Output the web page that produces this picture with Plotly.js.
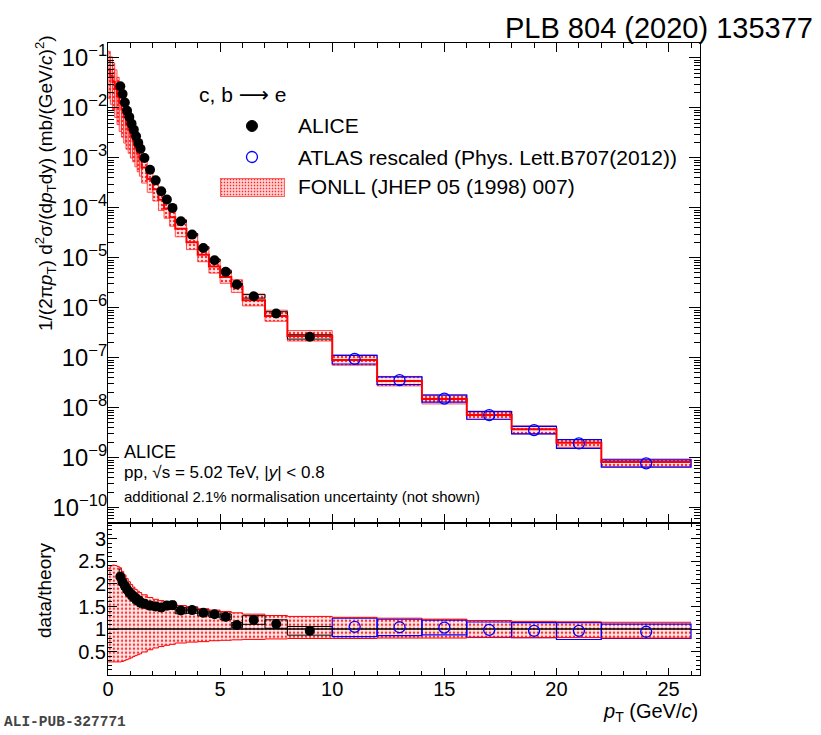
<!DOCTYPE html>
<html>
<head>
<meta charset="utf-8">
<script src="https://cdn.plot.ly/plotly-3.0.1.min.js"></script>
<style>html,body{margin:0;padding:0;background:#fff;}#chart{width:821px;height:735px;}</style>
</head>
<body>
<div id="chart"></div>
<script>
// ---------------- data ----------------
// ALICE heavy-flavour electrons, pp 5.02 TeV
const aliceX = [0.55,0.65,0.75,0.85,0.95,1.05,1.15,1.25,1.35,1.45,1.625,1.875,2.125,2.375,2.625,2.875,3.25,3.75,4.25,4.75,5.25,5.75,6.5,7.5,9];
const aliceW = [0.1,0.1,0.1,0.1,0.1,0.1,0.1,0.1,0.1,0.1,0.25,0.25,0.25,0.25,0.25,0.25,0.5,0.5,0.5,0.5,0.5,0.5,1,1,2];
const aliceY = [2.71e-2,1.9e-2,1.29e-2,8.8e-3,6.6e-3,4.85e-3,3.68e-3,2.7e-3,2.0e-3,1.53e-3,1.0e-3,5.8e-4,3.56e-4,2.15e-4,1.47e-4,1.0e-4,5.4e-5,2.92e-5,1.58e-5,8.95e-6,5.25e-6,2.92e-6,1.7e-6,7.7e-7,2.63e-7];
const aliceRatio = [2.16,2.04,1.96,1.88,1.81,1.76,1.71,1.67,1.63,1.60,1.56,1.52,1.50,1.48,1.52,1.53,1.41,1.42,1.36,1.33,1.27,1.09,1.20,1.11,0.96];
const aliceSys = [0.08,0.08,0.08,0.08,0.08,0.08,0.08,0.08,0.08,0.08,0.06,0.06,0.06,0.06,0.06,0.06,0.05,0.05,0.05,0.05,0.05,0.05,0.08,0.085,0.10];
const aliceStat = [0.01,0.01,0.01,0.01,0.01,0.01,0.01,0.01,0.01,0.01,0.01,0.01,0.01,0.01,0.01,0.01,0.01,0.01,0.01,0.01,0.01,0.01,0.04,0.05,0.07];

// ATLAS rescaled
const atlasX = [11,13,15,17,19,21,24];
const atlasW = [2,2,2,2,2,2,4];
const atlasY = [9.5e-8,3.56e-8,1.53e-8,7.1e-9,3.56e-9,1.93e-9,7.7e-10];
const atlasRatio = [1.05,1.04,1.03,0.98,0.96,0.96,0.94];
const atlasSysUp = [0.18,0.17,0.165,0.18,0.19,0.19,0.18];
const atlasSysDn = [0.21,0.18,0.155,0.17,0.16,0.20,0.16];

// FONLL
const fonllX = [0.05,0.15,0.25,0.35,0.45,0.55,0.65,0.75,0.85,0.95,1.05,1.15,1.25,1.35,1.45,
  1.625,1.875,2.125,2.375,2.625,2.875,3.25,3.75,4.25,4.75,5.25,5.75,6.5,7.5,9,11,13,15,17,19,21,24];
const fonllW = [0.1,0.1,0.1,0.1,0.1,0.1,0.1,0.1,0.1,0.1,0.1,0.1,0.1,0.1,0.1,
  0.25,0.25,0.25,0.25,0.25,0.25,0.5,0.5,0.5,0.5,0.5,0.5,1,1,2,2,2,2,2,2,2,4];
const fonllY = [5.8e-2,4.4e-2,3.3e-2,2.4e-2,1.72e-2,1.255e-2,9.3e-3,6.6e-3,4.68e-3,3.65e-3,2.76e-3,2.15e-3,1.62e-3,1.23e-3,9.6e-4,
  6.4e-4,3.8e-4,2.37e-4,1.45e-4,9.7e-5,6.5e-5,3.83e-5,2.06e-5,1.16e-5,6.7e-6,4.13e-6,2.68e-6,1.42e-6,6.9e-7,2.74e-7,
  9.0e-8,3.42e-8,1.49e-8,7.2e-9,3.7e-9,2.0e-9,8.2e-10];
const fonllUp = [2.35,2.40,2.42,2.41,2.39,2.36,2.28,2.20,2.12,2.05,1.99,1.93,1.88,1.84,1.81,
  1.76,1.70,1.66,1.63,1.59,1.56,1.52,1.48,1.45,1.42,1.39,1.36,1.33,1.30,1.28,1.26,1.24,1.22,1.19,1.17,1.16,1.15];
const fonllDn = [0.27,0.27,0.27,0.27,0.27,0.27,0.28,0.30,0.32,0.34,0.36,0.39,0.41,0.43,0.45,
  0.49,0.54,0.58,0.61,0.64,0.66,0.69,0.71,0.72,0.74,0.75,0.76,0.77,0.78,0.79,0.79,0.80,0.80,0.81,0.81,0.81,0.80];

const rTickVals = [0.5,1,1.5,2,2.5,3];
const rTickText = ['0.5','1','1.5','2','2.5','3'];
const xTickVals = [0,5,10,15,20,25];

// ---------------- helpers ----------------
function step(centers, widths, vals) {
  const xs = [], ys = [];
  for (let i = 0; i < centers.length; i++) { xs.push(centers[i] - widths[i]/2); ys.push(vals[i]); }
  const n = centers.length - 1;
  xs.push(centers[n] + widths[n]/2); ys.push(vals[n]);
  return {x: xs, y: ys};
}
const FONT = 'Liberation Sans, Arial, Helvetica, sans-serif';
const pattern = {shape: '.', fillmode: 'replace', fgcolor: 'rgba(255,0,0,0.8)', bgcolor: 'rgba(255,190,190,0.35)', size: 4, solidity: 0.3};

const fUp = fonllY.map((v,i) => v*fonllUp[i]);
const fDn = fonllY.map((v,i) => v*fonllDn[i]);
const fonllStep = step(fonllX, fonllW, fonllY);
const upStep = step(fonllX, fonllW, fonllUp);
const dnStep = step(fonllX, fonllW, fonllDn);
const unity = step(fonllX, fonllW, fonllY.map(v => v/v));

const traces = [
  // FONLL band (top)
  {type:'bar', x: fonllX, width: fonllW, base: fDn, y: fUp.map((u,i)=>u-fDn[i]), xaxis:'x', yaxis:'y',
   marker:{pattern: pattern, line:{color:'rgba(255,40,40,0.8)', width:1}}, hoverinfo:'skip'},
  // FONLL band (ratio)
  {type:'bar', x: fonllX, width: fonllW, base: fonllDn, y: fonllUp.map((u,i)=>u-fonllDn[i]), xaxis:'x2', yaxis:'y2',
   marker:{pattern: pattern, line:{width:0}}, hoverinfo:'skip'},
  // ALICE systematic boxes
  {type:'bar', x: aliceX, width: aliceW, base: aliceY.map((v,i)=>v*(1-aliceSys[i])), y: aliceY.map((v,i)=>2*v*aliceSys[i]),
   xaxis:'x', yaxis:'y', marker:{color:'rgba(0,0,0,0)', line:{color:'black', width:1}}, hoverinfo:'skip'},
  {type:'bar', x: aliceX, width: aliceW, base: aliceRatio.map((v,i)=>v*(1-aliceSys[i])), y: aliceRatio.map((v,i)=>2*v*aliceSys[i]),
   xaxis:'x2', yaxis:'y2', marker:{color:'rgba(0,0,0,0)', line:{color:'black', width:1}}, hoverinfo:'skip'},
  // ATLAS boxes
  {type:'bar', x: atlasX, width: atlasW, base: atlasY.map((v,i)=>v*(1-atlasSysDn[i])), y: atlasY.map((v,i)=>v*(atlasSysUp[i]+atlasSysDn[i])),
   xaxis:'x', yaxis:'y', marker:{color:'rgba(0,0,0,0)', line:{color:'#0000ff', width:1.2}}, hoverinfo:'skip'},
  {type:'bar', x: atlasX, width: atlasW, base: atlasRatio.map((v,i)=>v*(1-atlasSysDn[i])), y: atlasRatio.map((v,i)=>v*(atlasSysUp[i]+atlasSysDn[i])),
   xaxis:'x2', yaxis:'y2', marker:{color:'rgba(0,0,0,0)', line:{color:'#0000ff', width:1.2}}, hoverinfo:'skip'},
  // FONLL central step (top)
  {type:'scatter', mode:'lines', x: fonllStep.x, y: fonllStep.y, line:{shape:'hv', color:'#ff0000', width:2}, xaxis:'x', yaxis:'y'},
  // ratio band envelope
  {type:'scatter', mode:'lines', x: upStep.x, y: upStep.y, line:{shape:'hv', color:'#ff0000', width:1}, xaxis:'x2', yaxis:'y2'},
  {type:'scatter', mode:'lines', x: dnStep.x, y: dnStep.y, line:{shape:'hv', color:'#ff0000', width:1}, xaxis:'x2', yaxis:'y2'},
  {type:'scatter', mode:'lines', x: unity.x, y: unity.y, line:{shape:'hv', color:'black', width:1.5}, xaxis:'x2', yaxis:'y2'},
  // ALICE points
  {type:'scatter', mode:'markers', x: aliceX, y: aliceY, xaxis:'x', yaxis:'y',
   error_y:{type:'data', array: aliceY.map((v,i)=>v*aliceStat[i]), color:'black', thickness:1.2, width:0},
   marker:{symbol:'circle', size:10, color:'black'}},
  {type:'scatter', mode:'markers', x: aliceX, y: aliceRatio, xaxis:'x2', yaxis:'y2',
   error_y:{type:'data', array: aliceRatio.map((v,i)=>v*aliceStat[i]), color:'black', thickness:1.2, width:0},
   marker:{symbol:'circle', size:10, color:'black'}},
  // ATLAS points
  {type:'scatter', mode:'markers', x: atlasX, y: atlasY, xaxis:'x', yaxis:'y',
   marker:{symbol:'circle-open', size:11, color:'#0000ff', line:{width:1.3}}},
  {type:'scatter', mode:'markers', x: atlasX, y: atlasRatio, xaxis:'x2', yaxis:'y2',
   marker:{symbol:'circle-open', size:11, color:'#0000ff', line:{width:1.3}}}
];

const axCommon = {showline:true, linecolor:'black', linewidth:1, mirror:'ticks', ticks:'inside',
  tickcolor:'black', tickwidth:1, showgrid:false, zeroline:false, tickfont:{family:FONT, size:20, color:'black'}};

// legend swatch for FONLL (dotted pattern as an SVG image)
const swatchSvg = '<svg xmlns="http://www.w3.org/2000/svg" width="65" height="19">' +
  '<defs><pattern id="p" width="3" height="3" patternUnits="userSpaceOnUse">' +
  '<rect width="3" height="3" fill="#ffd6d6"/><circle cx="1.5" cy="1.5" r="0.9" fill="#ff2020"/></pattern></defs>' +
  '<rect x="0.5" y="0.5" width="64" height="18" fill="url(#p)" stroke="#ff6060" stroke-width="1"/></svg>';
const swatchSrc = 'data:image/svg+xml;base64,' + btoa(swatchSvg);

const layout = {
  width: 821, height: 735,
  margin: {l:108, r:121, t:43, b:60, pad:0},
  paper_bgcolor:'white', plot_bgcolor:'white',
  showlegend:false, barmode:'overlay',
  font:{family:FONT, color:'black'},
  xaxis: Object.assign({}, axCommon, {domain:[0,1], anchor:'y', range:[0,26.4], tickvals:xTickVals, showticklabels:false,
    ticklen:9, minor:{dtick:1, tick0:0, ticks:'inside', ticklen:5, tickcolor:'black'}}),
  yaxis: Object.assign({}, axCommon, {domain:[0.241,1], anchor:'x', type:'log', range:[-10.3,-0.7], dtick:1, tick0:0,
    exponentformat:'power', showexponent:'all', ticklen:11, ticklabelstandoff:-4, tickfont:{family:FONT, size:19, color:'black'},
    minor:{dtick:'D1', ticks:'inside', ticklen:6, tickcolor:'black'}}),
  xaxis2: Object.assign({}, axCommon, {domain:[0,1], anchor:'y2', range:[0,26.4], tickvals:xTickVals, ticklabelstandoff:-4,
    ticklen:7, minor:{dtick:1, tick0:0, ticks:'inside', ticklen:4, tickcolor:'black'}}),
  yaxis2: Object.assign({}, axCommon, {domain:[0,0.241], anchor:'x2', range:[-0.02,3.36], tickvals:rTickVals, ticktext:rTickText,
    ticklen:9, ticklabelstandoff:-3, minor:{dtick:0.1, tick0:0, ticks:'inside', ticklen:4, tickcolor:'black'}}),
  images: [
    {source: swatchSrc, xref:'paper', yref:'paper', x:0.1892, y:0.7864, sizex:0.1098, sizey:0.0301,
     xanchor:'left', yanchor:'top', sizing:'stretch', layer:'above'}
  ],
  shapes: [
    // legend symbols
    {type:'circle', xref:'paper', yref:'paper', xsizemode:'pixel', ysizemode:'pixel', xanchor:0.2432, yanchor:0.8687,
     x0:-5.5, x1:5.5, y0:-5.5, y1:5.5, fillcolor:'black', line:{color:'black', width:1}},
    {type:'circle', xref:'paper', yref:'paper', xsizemode:'pixel', ysizemode:'pixel', xanchor:0.2432, yanchor:0.8196,
     x0:-5.5, x1:5.5, y0:-5.5, y1:5.5, fillcolor:'rgba(0,0,0,0)', line:{color:'#0000ff', width:1.3}}
  ],
  annotations: [
    {xref:'paper', yref:'paper', x:-0.1064, y:1.0158, xanchor:'center', yanchor:'top', textangle:-90, showarrow:false,
     text:'1/(2π<i>p</i><sub>T</sub>) d<sup>2</sup>σ/(d<i>p</i><sub>T</sub>dy) (mb/(GeV/<i>c</i>)<sup>2</sup>)', font:{family:FONT, size:19}},
    {xref:'paper', yref:'paper', x:-0.1064, y:0.1345, xanchor:'center', yanchor:'middle', textangle:-90, showarrow:false,
     text:'data/theory', font:{family:FONT, size:19}},
    {xref:'paper', yref:'paper', x:1.0, y:-0.059, xanchor:'right', yanchor:'middle', showarrow:false,
     text:'<i>p</i><sub>T</sub> (GeV/<i>c</i>)', font:{family:FONT, size:20}},
    {xref:'paper', yref:'paper', x:1.1943, y:1.0237, xanchor:'right', yanchor:'middle', showarrow:false,
     text:'PLB 804 (2020) 135377', font:{family:FONT, size:29}},
    {xref:'paper', yref:'paper', x:-0.179, y:-0.0744, xanchor:'left', yanchor:'middle', showarrow:false,
     text:'<b>ALI-PUB-327771</b>', font:{family:'Liberation Mono, Courier New, monospace', size:14.5, color:'#444'}},
    // legend texts
    {xref:'paper', yref:'paper', x:0.1503, y:0.9177, xanchor:'left', yanchor:'middle', showarrow:false,
     text:'c, b <span style="font-family:DejaVu Sans">⟶</span> e', font:{family:FONT, size:21}},
    {xref:'paper', yref:'paper', x:0.3176, y:0.8687, xanchor:'left', yanchor:'middle', showarrow:false,
     text:'ALICE', font:{family:FONT, size:21}},
    {xref:'paper', yref:'paper', x:0.3176, y:0.8196, xanchor:'left', yanchor:'middle', showarrow:false,
     text:'ATLAS rescaled (Phys. Lett.B707(2012))', font:{family:FONT, size:21}},
    {xref:'paper', yref:'paper', x:0.3176, y:0.7722, xanchor:'left', yanchor:'middle', showarrow:false,
     text:'FONLL (JHEP 05 (1998) 007)', font:{family:FONT, size:21}},
    // system text
    {xref:'paper', yref:'paper', x:0.0236, y:0.3528, xanchor:'left', yanchor:'middle', showarrow:false,
     text:'ALICE', font:{family:FONT, size:18}},
    {xref:'paper', yref:'paper', x:0.0236, y:0.3212, xanchor:'left', yanchor:'middle', showarrow:false,
     text:'pp, √s = 5.02 TeV, |<i>y</i>| &lt; 0.8', font:{family:FONT, size:17}},
    {xref:'paper', yref:'paper', x:0.0236, y:0.2832, xanchor:'left', yanchor:'middle', showarrow:false,
     text:'additional 2.1% normalisation uncertainty (not shown)', font:{family:FONT, size:15}}
  ]
};

Plotly.newPlot('chart', traces, layout, {staticPlot:true, displayModeBar:false});
</script>
</body>
</html>
